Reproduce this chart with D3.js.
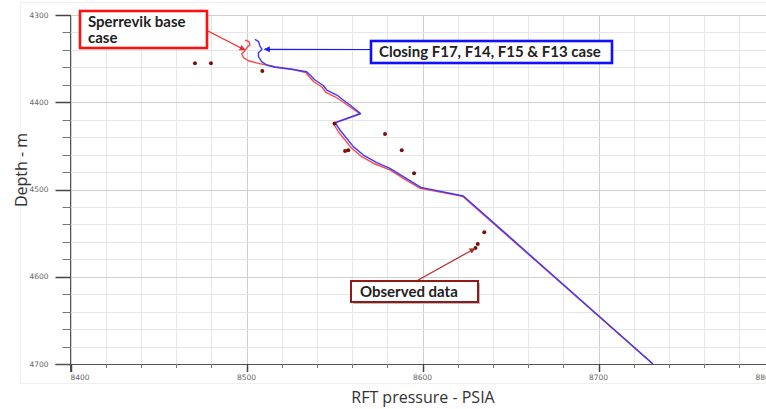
<!DOCTYPE html>
<html>
<head>
<meta charset="utf-8">
<script src="https://cdn.jsdelivr.net/npm/d3@7"></script>
<style>
  html, body { margin: 0; padding: 0; background: #fff; }
  svg { display: block; }
</style>
</head>
<body>
<svg id="chart" width="766" height="409"></svg>
<script>
// Axis ticks
const pressureTicks = [8400, 8500, 8600, 8700, 8800];
const depthTicks = [4300, 4400, 4500, 4600, 4700];

// Simulated RFT profile – Sperrevik base case
const basePressure = [8499.1, 8501.4, 8502.0, 8500.7, 8499.1, 8497.3, 8498.2, 8501.0, 8506.7, 8516.2,
  8525.7, 8533.8, 8535.5, 8538.4, 8542.9, 8544.9, 8550.6, 8554.5, 8558.5, 8564.5,
  8549.4, 8552.2, 8559.8, 8565.5, 8573.0, 8581.5, 8589.1, 8598.7, 8622.9, 8730.8];
const baseDepth = [4328.7, 4330.6, 4334.4, 4336.3, 4340.9, 4344.7, 4348.5, 4352.4, 4355.4, 4359.3,
  4362.2, 4365.9, 4370.5, 4376.8, 4382.5, 4388.3, 4394.0, 4399.1, 4404.9, 4413.5,
  4424.4, 4433.8, 4452.8, 4462.4, 4470.8, 4477.6, 4487.2, 4498.6, 4507.9, 4700.0];

// Simulated RFT profile – closing F17, F14, F15 & F13
const closingPressure = [8504.8, 8506.9, 8507.5, 8508.8, 8506.8, 8506.8, 8508.6, 8511.5, 8516.2, 8525.7,
  8534.2, 8536.1, 8538.9, 8543.6, 8545.6, 8551.3, 8555.0, 8558.8, 8564.8,
  8550.3, 8553.1, 8560.7, 8566.4, 8574.0, 8581.5, 8589.1, 8599.1, 8623.2, 8731.0];
const closingDepth = [4327.9, 4330.6, 4335.0, 4339.3, 4343.2, 4347.8, 4353.5, 4357.3, 4359.9, 4362.2,
  4365.0, 4368.8, 4374.5, 4380.8, 4386.0, 4391.7, 4397.4, 4403.2, 4412.9,
  4423.4, 4431.8, 4450.9, 4460.5, 4469.3, 4475.7, 4485.3, 4497.5, 4507.4, 4700.0];

// Measured RFT pressures
const observedPressure = [8470.7, 8479.8, 8509.0, 8550.0, 8556.0, 8557.8, 8578.7, 8588.2, 8595.2, 8635.1, 8631.4, 8630.1];
const observedDepth = [4355.4, 4355.4, 4364.2, 4424.4, 4455.9, 4455.1, 4436.4, 4455.1, 4481.4, 4549.1, 4562.5, 4567.1];

const svg = d3.select("#chart");
const plotL = 70.5, plotR = 774.5, plotT = 15, plotB = 364;

const x = d3.scaleLinear().domain([8400, 8800]).range([plotL, plotR]);
const y = d3.scaleLinear().domain([4300, 4700]).range([plotT, plotB]);

// faint panel frame
svg.append("rect")
  .attr("x", 20.5).attr("y", 2.5).attr("width", 760).attr("height", 381)
  .attr("fill", "none").attr("stroke", "#efefef");

// grid
const minorX = d3.range(8400, 8801, 20);
const minorY = d3.range(4300, 4701, 20);
const grid = svg.append("g");
grid.selectAll(".gx").data(minorX).join("line")
  .attr("x1", d => Math.round(x(d)) + 0.5).attr("x2", d => Math.round(x(d)) + 0.5)
  .attr("y1", plotT).attr("y2", plotB)
  .attr("stroke", d => d % 100 === 0 ? "#cfcfcf" : "#e6e6e6").attr("stroke-width", 1);
grid.selectAll(".gy").data(minorY).join("line")
  .attr("y1", d => Math.round(y(d)) + 0.5).attr("y2", d => Math.round(y(d)) + 0.5)
  .attr("x1", plotL).attr("x2", 766)
  .attr("stroke", d => d % 100 === 0 ? "#cfcfcf" : "#e6e6e6").attr("stroke-width", 1);

// y axis
const yAxis = svg.append("g").attr("transform", `translate(${plotL},0)`);
yAxis.append("line").attr("x1", 0).attr("x2", 0).attr("y1", plotT).attr("y2", plotB + 8)
  .attr("stroke", "#555");
yAxis.selectAll(".ty").data(minorY).join("line")
  .attr("x1", d => d % 100 === 0 ? -15 : -8).attr("x2", 0)
  .attr("y1", d => Math.round(y(d)) + 0.5).attr("y2", d => Math.round(y(d)) + 0.5)
  .attr("stroke", d => d % 100 === 0 ? "#444" : "#777")
  .attr("stroke-width", d => d % 100 === 0 ? 1.5 : 1);
yAxis.selectAll(".ly").data(depthTicks).join("text")
  .attr("x", -22).attr("y", d => y(d)).attr("dy", "0.35em")
  .attr("text-anchor", "end")
  .attr("font-family", "DejaVu Sans, sans-serif").attr("font-size", 7.5).attr("fill", "#666")
  .text(d => d);

// x axis
const xAxis = svg.append("g").attr("transform", `translate(0,${plotB})`);
xAxis.append("line").attr("x1", plotL - 15).attr("x2", 766).attr("y1", 0.5).attr("y2", 0.5)
  .attr("stroke", "#555");
xAxis.selectAll(".tx").data(minorX).join("line")
  .attr("x1", d => Math.round(x(d)) + 0.5).attr("x2", d => Math.round(x(d)) + 0.5)
  .attr("y1", 0).attr("y2", d => d % 100 === 0 ? 8 : 4)
  .attr("stroke", d => d % 100 === 0 ? "#444" : "#777")
  .attr("stroke-width", d => d % 100 === 0 ? 1.5 : 1);
xAxis.selectAll(".lx").data(pressureTicks).join("text")
  .attr("x", d => x(d)).attr("y", 16)
  .attr("text-anchor", (d, i) => i === 0 ? "start" : (i === pressureTicks.length - 1 ? "end" : "middle"))
  .attr("font-family", "DejaVu Sans, sans-serif").attr("font-size", 7.5).attr("fill", "#666")
  .text(d => d);

// axis titles
svg.append("text")
  .attr("x", 423).attr("y", 403)
  .attr("text-anchor", "middle")
  .attr("font-family", "Open Sans, sans-serif").attr("font-size", 16).attr("fill", "#333")
  .text("RFT pressure - PSIA");
svg.append("text")
  .attr("transform", "translate(27,170) rotate(-90)")
  .attr("text-anchor", "middle")
  .attr("font-family", "Open Sans, sans-serif").attr("font-size", 16).attr("fill", "#333")
  .text("Depth - m");

// profiles
const line = d3.line().x(d => x(d[0])).y(d => y(d[1]));
const baseRows = d3.zip(basePressure, baseDepth);
const closingRows = d3.zip(closingPressure, closingDepth);

svg.append("path").datum(baseRows).attr("d", line)
  .attr("fill", "none").attr("stroke", "#ff3333").attr("stroke-width", 1.4)
  .attr("stroke-opacity", 0.9).attr("stroke-linejoin", "round");
svg.append("path").datum(closingRows).attr("d", line)
  .attr("fill", "none").attr("stroke", "#3a3aff").attr("stroke-width", 1.4)
  .attr("stroke-linejoin", "round");

// observed points
svg.selectAll(".obs").data(d3.zip(observedPressure, observedDepth)).join("circle")
  .attr("cx", d => x(d[0])).attr("cy", d => y(d[1])).attr("r", 2)
  .attr("fill", "#7a0f0f");

// annotations
const defs = svg.append("defs");
function marker(id, color) {
  defs.append("marker").attr("id", id)
    .attr("viewBox", "0 0 10 10").attr("refX", 9).attr("refY", 5)
    .attr("markerWidth", 5).attr("markerHeight", 5).attr("orient", "auto")
    .append("path").attr("d", "M0,0L10,5L0,10z").attr("fill", color);
}
marker("arRed", "#ff2020");
marker("arBlue", "#1a1aff");
marker("arObs", "#b02a2a");

function arrow(x1, y1, px, py, color, id, w) {
  svg.append("line")
    .attr("x1", x1).attr("y1", y1).attr("x2", x(px)).attr("y2", y(py))
    .attr("stroke", color).attr("stroke-width", w).attr("marker-end", `url(#${id})`);
}
arrow(208, 31, 8499.1, 4340.1, "#ff2020", "arRed", 1.2);
arrow(370, 49.5, 8510.2, 4339.3, "#1a1aff", "arBlue", 1.2);
arrow(416.5, 281, 8629.8, 4567.6, "#b02a2a", "arObs", 1.2);

const labelFont = { family: "Lato, sans-serif", size: 15 };

// Sperrevik base case box
svg.append("rect").attr("x", 80).attr("y", 11).attr("width", 127).attr("height", 37)
  .attr("fill", "#fff").attr("stroke", "#ff1010").attr("stroke-width", 2.6);
svg.append("text").attr("x", 88).attr("y", 27)
  .attr("font-family", labelFont.family).attr("font-weight", "bold").attr("font-size", labelFont.size)
  .attr("fill", "#222").text("Sperrevik base");
svg.append("text").attr("x", 88).attr("y", 42.5)
  .attr("font-family", labelFont.family).attr("font-weight", "bold").attr("font-size", labelFont.size)
  .attr("fill", "#222").text("case");

// Closing case box
svg.append("rect").attr("x", 371).attr("y", 41).attr("width", 241).attr("height", 22)
  .attr("fill", "#fff").attr("stroke", "#1010ff").attr("stroke-width", 2.6);
svg.append("text").attr("x", 379).attr("y", 57)
  .attr("font-family", labelFont.family).attr("font-weight", "bold").attr("font-size", labelFont.size)
  .attr("fill", "#222").text("Closing F17, F14, F15 & F13 case");

// Observed data box
svg.append("rect").attr("x", 353).attr("y", 283).attr("width", 127).attr("height", 21)
  .attr("fill", "#bbb");
svg.append("rect").attr("x", 351).attr("y", 281).attr("width", 127).attr("height", 21)
  .attr("fill", "#fff").attr("stroke", "#8e1a1a").attr("stroke-width", 2);
svg.append("text").attr("x", 360).attr("y", 297)
  .attr("font-family", labelFont.family).attr("font-weight", "bold").attr("font-size", labelFont.size)
  .attr("fill", "#222").text("Observed data");
</script>
</body>
</html>
